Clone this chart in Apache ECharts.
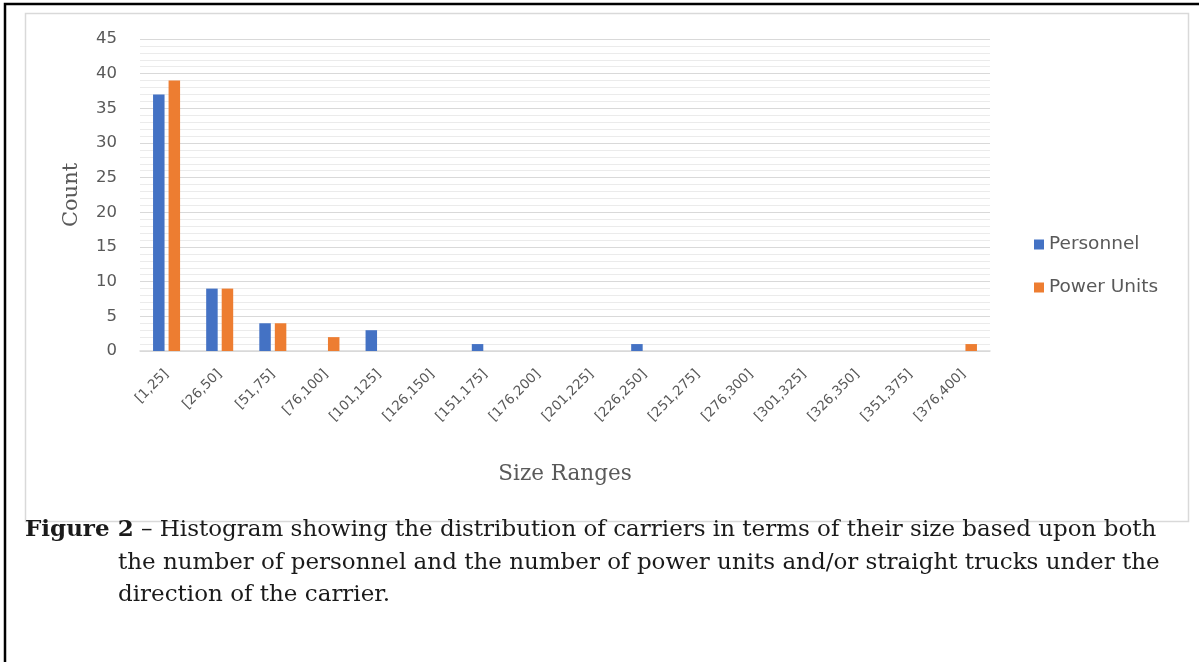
<!DOCTYPE html>
<html>
<head>
<meta charset="utf-8">
<script src="https://cdn.jsdelivr.net/npm/echarts@6/dist/echarts.min.js"></script>
<style>
html,body{margin:0;padding:0;background:#fff;}
#c{width:1199px;height:662px;}
</style>
</head>
<body>
<div id="c"></div>
<script>
var categories = ['[1,25]','[26,50]','[51,75]','[76,100]','[101,125]','[126,150]','[151,175]','[176,200]','[201,225]','[226,250]','[251,275]','[276,300]','[301,325]','[326,350]','[351,375]','[376,400]'];
var personnel = [37,9,4,0,3,0,1,0,0,1,0,0,0,0,0,0];
var powerUnits = [39,9,4,2,0,0,0,0,0,0,0,0,0,0,0,1];
var yTicks = [0,5,10,15,20,25,30,35,40,45];
var captionLines = [
  ['Figure 2', ' \u2013 Histogram showing the distribution of carriers in terms of their size based upon both'],
  ['', 'the number of personnel and the number of power units and/or straight trucks under the'],
  ['', 'direction of the carrier.']
];

var chart = echarts.init(document.getElementById('c'), null, {renderer:'canvas'});
var captionGraphics = captionLines.map(function(l, i){
  return {
    type:'text', left: i === 0 ? 25 : 118, top: 519 + i*32.5,
    style:{
      text: (l[0] ? '{b|' + l[0] + '}' : '') + '{n|' + l[1] + '}',
      rich:{
        b:{fontFamily:'DejaVu Serif', fontWeight:'bold', fontSize:23, fill:'#1a1a1a'},
        n:{fontFamily:'DejaVu Serif', fontSize:23, fill:'#1a1a1a'}
      }
    }
  };
});
var option = {
  animation:false,
  backgroundColor:'#fff',
  graphic: [
    {type:'polyline', shape:{points:[[5,662],[5,4],[1199,4]]}, style:{stroke:'#000', lineWidth:2.5, fill:null}},
    {type:'rect', shape:{x:25.5, y:13.5, width:1163, height:508}, style:{stroke:'#d9d9d9', lineWidth:1.5, fill:null}}
  ].concat(captionGraphics),
  grid:{left:140, right:209, top:39, bottom:311, containLabel:false},
  legend:{
    orient:'vertical', left:1029, top:230, itemGap:24,
    itemWidth:10, itemHeight:10, icon:'rect',
    textStyle:{fontFamily:'DejaVu Sans', fontSize:18.5, color:'#595959'},
    data:['Personnel','Power Units']
  },
  xAxis:{
    type:'category', data:categories,
    axisLine:{show:true, lineStyle:{color:'#d9d9d9', width:1.5}},
    axisTick:{show:false},
    axisLabel:{rotate:45, interval:0, fontFamily:'DejaVu Sans', fontSize:13.5, color:'#595959', margin:21},
    name:'Size Ranges', nameLocation:'middle', nameGap:112,
    nameTextStyle:{fontFamily:'DejaVu Serif', fontSize:21.5, color:'#595959'}
  },
  yAxis:{
    type:'value', min:yTicks[0], max:yTicks[yTicks.length-1], interval:5,
    axisLine:{show:false}, axisTick:{show:false},
    axisLabel:{fontFamily:'DejaVu Sans', fontSize:16.5, color:'#595959', margin:23},
    splitLine:{lineStyle:{color:'#d9d9d9', width:1}},
    minorTick:{show:false, splitNumber:5},
    minorSplitLine:{show:true, lineStyle:{color:'#ebebeb', width:1}},
    name:'Count', nameLocation:'middle', nameGap:58,
    nameTextStyle:{fontFamily:'DejaVu Serif', fontSize:21, color:'#595959'}
  },
  series:[
    {name:'Personnel', type:'bar', data:personnel, barWidth:11.5, barGap:'35%',
     itemStyle:{color:'#4472C4'}},
    {name:'Power Units', type:'bar', data:powerUnits, barWidth:11.5, barGap:'35%',
     itemStyle:{color:'#ED7D31'}}
  ]
};
chart.setOption(option);
</script>
</body>
</html>
